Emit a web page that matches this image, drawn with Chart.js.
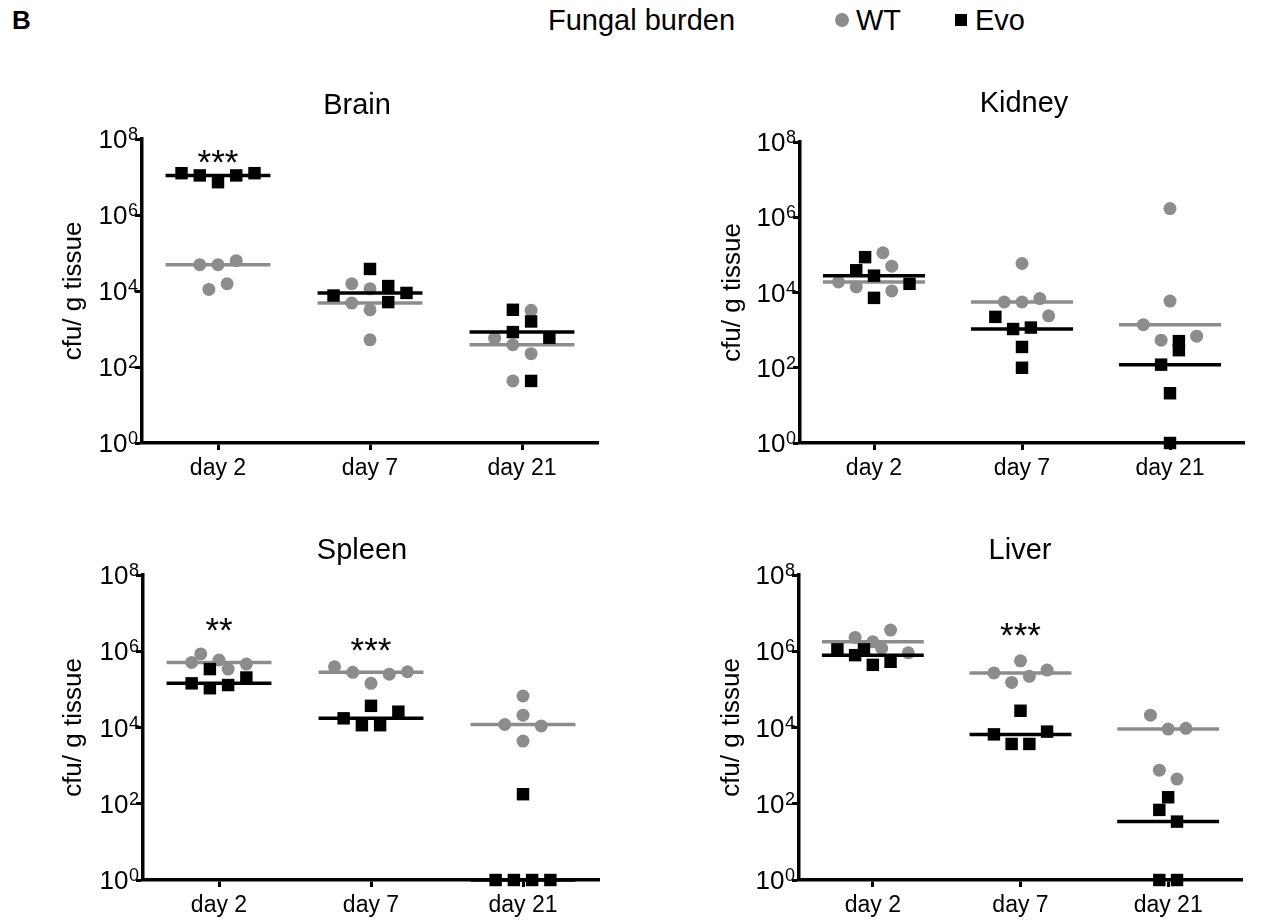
<!DOCTYPE html>
<html>
<head>
<meta charset="utf-8">
<script src="https://cdn.jsdelivr.net/npm/chart.js@4.4.0/dist/chart.umd.min.js"></script>
<style>
body { margin: 0; background: #fff; font-family: "Liberation Sans", Arial, sans-serif; }
#page { position: relative; width: 1263px; height: 923px; overflow: hidden; }
canvas { position: absolute; left: 0; top: 0; }
.hdr { position: absolute; font-size: 29px; line-height: 1; color: #000; white-space: nowrap; }
</style>
</head>
<body>
<div id="page">
  <div class="hdr" style="left:12px;top:7px;font-weight:bold;font-size:26px">B</div>
  <div class="hdr" style="left:548px;top:6px">Fungal burden</div>
  <div style="position:absolute;left:835px;top:13px;width:14px;height:14px;border-radius:50%;background:#8c8c8c"></div>
  <div class="hdr" style="left:856px;top:6px">WT</div>
  <div style="position:absolute;left:955px;top:14px;width:12px;height:12px;background:#000"></div>
  <div class="hdr" style="left:975px;top:6px">Evo</div>
</div>
<script>
// categories and axis ticks
const days = ["day 2", "day 7", "day 21"];
const yTickValues = [1, 1e2, 1e4, 1e6, 1e8];

// cfu per g tissue, one small array per day (day 2, day 7, day 21)
const brainWT = [[4.9e4, 4.9e4, 6.3e4, 1.1e4, 1.55e4], [1.55e4, 1.14e4, 4.8e3, 3.2e3, 520], [3.1e3, 575, 385, 224, 43]];
const brainEvo = [[1.26e7, 1.1e7, 7.3e6, 1.1e7, 1.26e7], [7.6e3, 3.8e4, 1.35e4, 5.1e3, 8.9e3], [3.2e3, 1.58e3, 830, 590, 43]];
const kidneyWT = [[1.14e5, 5.0e4, 1.9e4, 1.4e4, 1.1e4], [5.9e4, 5.6e3, 5.6e3, 6.9e3, 2.4e3], [1.7e6, 5.9e3, 1.4e3, 540, 690]];
const kidneyEvo = [[8.7e4, 3.9e4, 2.8e4, 1.7e4, 7.2e3], [2.25e3, 1.07e3, 1.17e3, 357, 100], [510, 293, 121, 21, 1]];
const spleenWT = [[8.5e5, 5.1e5, 5.9e5, 3.4e5, 4.6e5], [3.9e5, 2.8e5, 1.44e5, 2.5e5, 2.9e5], [6.7e4, 2.1e4, 1.2e4, 1.1e4, 4.4e3]];
const spleenEvo = [[3.4e5, 1.44e5, 1.07e5, 1.3e5, 2.05e5], [1.74e4, 1.15e4, 3.7e4, 1.15e4, 2.6e4], [178, 1, 1, 1, 1]];
const liverWT = [[2.3e6, 1.77e6, 3.6e6, 1.2e6, 9.1e5], [5.6e5, 2.7e5, 1.52e5, 2.2e5, 3.2e5], [2.1e4, 9.1e3, 9.5e3, 760, 445]];
const liverEvo = [[1.12e6, 7.9e5, 1.12e6, 4.4e5, 5.3e5], [2.75e4, 6.6e3, 3.7e3, 3.7e3, 7.8e3], [148, 69, 34, 1, 1]];

// horizontal scatter slots of the points (same order as the values)
const brainWTSlots = [[-1, 0, 1, -0.5, 0.5], [-1, 0, -1, 0, 0], [0.5, -1.5, -0.5, 0.5, -0.5]];
const brainEvoSlots = [[-2, -1, 0, 1, 2], [-2, 0, 1, 1, 2], [-0.5, 0.5, -0.5, 1.5, 0.5]];
const kidneyWTSlots = [[0.5, 1, -2, -1, 1], [0, -1, 0, 1, 1.5], [0, 0, -1.5, -0.5, 1.5]];
const kidneyEvoSlots = [[-0.5, -1, 0, 2, 0], [-1.5, -0.5, 0.5, 0, 0], [0.5, 0.5, -0.5, 0, 0]];
const spleenWTSlots = [[-1, -1.5, 0, 0.5, 1.5], [-2, -1, 0, 1, 2], [0, 0, -1, 1, 0]];
const spleenEvoSlots = [[-0.5, -1.5, -0.5, 0.5, 1.5], [-1.5, -0.5, 0, 0.5, 1.5], [0, -1.5, -0.5, 0.5, 1.5]];
const liverWTSlots = [[-1, 0, 1, 0.5, 2], [0, -1.5, -0.5, 0.5, 1.5], [-1, 0, 1, -0.5, 0.5]];
const liverEvoSlots = [[-2, -1, -0.5, 0, 1], [0, -1.5, -0.5, 0.5, 1.5], [0, -0.5, 0.5, -0.5, 0.5]];

// significance marks: panel, day index, value they sit at
const starLabels = [
    { panel: "Brain", day: 0, text: "***", at: 4.1e7 },
    { panel: "Spleen", day: 0, text: "**", at: 5.9e6 },
    { panel: "Spleen", day: 1, text: "***", at: 1.8e6 },
    { panel: "Liver", day: 1, text: "***", at: 4.4e6 }
];

const FONT = '"Liberation Sans", Arial, sans-serif';
const GRAY = "#8c8c8c";
const SLOT = 0.12;
const HALF = 0.345;

const panels = [
    { title: "Brain", wt: brainWT, evo: brainEvo, wtSlots: brainWTSlots, evoSlots: brainEvoSlots,
      left: 142, right: 598, top: 139, bottom: 443, titleX: 357, titleY: 106, yTitleX: 74 },
    { title: "Kidney", wt: kidneyWT, evo: kidneyEvo, wtSlots: kidneyWTSlots, evoSlots: kidneyEvoSlots,
      left: 800, right: 1244, top: 142, bottom: 443, titleX: 1024, titleY: 104, yTitleX: 733 },
    { title: "Spleen", wt: spleenWT, evo: spleenEvo, wtSlots: spleenWTSlots, evoSlots: spleenEvoSlots,
      left: 143, right: 599, top: 575, bottom: 880, titleX: 362, titleY: 551, yTitleX: 74 },
    { title: "Liver", wt: liverWT, evo: liverEvo, wtSlots: liverWTSlots, evoSlots: liverEvoSlots,
      left: 799, right: 1242, top: 575, bottom: 880, titleX: 1020, titleY: 551, yTitleX: 732 }
];

function median(arr) {
    const s = arr.slice().sort((a, b) => a - b);
    const m = Math.floor(s.length / 2);
    return s.length % 2 ? s[m] : (s[m - 1] + s[m]) / 2;
}

function pointsFor(values, slots) {
    const pts = [];
    values.forEach((dayVals, d) => {
        dayVals.forEach((v, i) => pts.push({ x: d + slots[d][i] * SLOT, y: v }));
    });
    return pts;
}

function medianLines(values, color, order) {
    return values.map((dayVals, d) => {
        const m = median(dayVals);
        return {
            type: "line",
            data: [{ x: d - HALF, y: m }, { x: d + HALF, y: m }],
            borderColor: color,
            borderWidth: 3.5,
            pointRadius: 0,
            order: order,
            clip: false
        };
    });
}

// titles, rotated axis title, 10^n tick labels and stars
const panelText = {
    id: "panelText",
    afterDraw(chart, args, opts) {
        const ctx = chart.ctx;
        const area = chart.chartArea;
        const xs = chart.scales.x;
        const ys = chart.scales.y;
        ctx.save();
        ctx.fillStyle = "#000";

        ctx.font = "29px " + FONT;
        ctx.textAlign = "center";
        ctx.textBaseline = "middle";
        ctx.fillText(opts.title, opts.titleX, opts.titleY);

        ctx.save();
        ctx.translate(opts.yTitleX, (area.top + area.bottom) / 2);
        ctx.rotate(-Math.PI / 2);
        ctx.font = "26px " + FONT;
        ctx.fillText("cfu/ g tissue", 0, 0);
        ctx.restore();

        ctx.textBaseline = "alphabetic";
        ctx.textAlign = "right";
        yTickValues.forEach(v => {
            const py = ys.getPixelForValue(v);
            const exp = String(Math.round(Math.log10(v)));
            const xr = area.left - 4;
            ctx.font = "18px " + FONT;
            const supW = ctx.measureText(exp).width;
            ctx.fillText(exp, xr, py + 1);
            ctx.font = "26px " + FONT;
            ctx.fillText("10", xr - supW - 0.5, py + 9);
        });

        ctx.textAlign = "center";
        ctx.font = "35px " + FONT;
        starLabels.filter(s => s.panel === opts.title).forEach(s => {
            ctx.fillText(s.text, xs.getPixelForValue(s.day), ys.getPixelForValue(s.at) + 20);
        });
        ctx.restore();
    }
};

function createPanel(p) {
    const canvas = document.createElement("canvas");
    canvas.width = 1263;
    canvas.height = 923;
    canvas.style.width = "1263px";
    canvas.style.height = "923px";
    document.getElementById("page").appendChild(canvas);

    const datasets = []
        .concat(medianLines(p.evo, "#000", 0))
        .concat([{
            label: "Evo",
            data: pointsFor(p.evo, p.evoSlots),
            pointStyle: "rect",
            pointRadius: 8.8,
            pointBorderWidth: 0,
            backgroundColor: "#000",
            borderColor: "#000",
            order: 1,
            clip: false
        }])
        .concat(medianLines(p.wt, GRAY, 2))
        .concat([{
            label: "WT",
            data: pointsFor(p.wt, p.wtSlots),
            pointStyle: "circle",
            pointRadius: 6.5,
            pointBorderWidth: 0,
            backgroundColor: GRAY,
            borderColor: GRAY,
            order: 3,
            clip: false
        }]);

    const axisGrid = { drawOnChartArea: false, drawTicks: true, tickLength: 7, tickWidth: 3, tickColor: "#000" };
    const axisBorder = { display: true, color: "#000", width: 3.5 };

    new Chart(canvas.getContext("2d"), {
        type: "scatter",
        data: { datasets: datasets },
        options: {
            responsive: false,
            animation: false,
            devicePixelRatio: 1,
            events: [],
            layout: {
                padding: { left: p.left, right: 1263 - p.right, top: p.top, bottom: 923 - p.bottom - 45 }
            },
            plugins: {
                legend: { display: false },
                tooltip: { enabled: false },
                panelText: { title: p.title, titleX: p.titleX, titleY: p.titleY, yTitleX: p.yTitleX }
            },
            scales: {
                x: {
                    type: "linear",
                    min: -0.5,
                    max: 2.5,
                    afterBuildTicks: s => { s.ticks = days.map((d, i) => ({ value: i })); },
                    afterFit: s => { s.height = 45; },
                    ticks: {
                        callback: (v, i) => days[i],
                        color: "#000",
                        font: { family: FONT, size: 23 },
                        padding: 5,
                        autoSkip: false,
                        maxRotation: 0
                    },
                    grid: axisGrid,
                    border: axisBorder
                },
                y: {
                    type: "logarithmic",
                    min: 1,
                    max: 1e8,
                    afterBuildTicks: s => { s.ticks = yTickValues.map(v => ({ value: v })); },
                    afterFit: s => { s.width = 0; },
                    ticks: { display: false },
                    grid: axisGrid,
                    border: axisBorder
                }
            }
        },
        plugins: [panelText]
    });
}

panels.forEach(createPanel);
</script>
</body>
</html>
